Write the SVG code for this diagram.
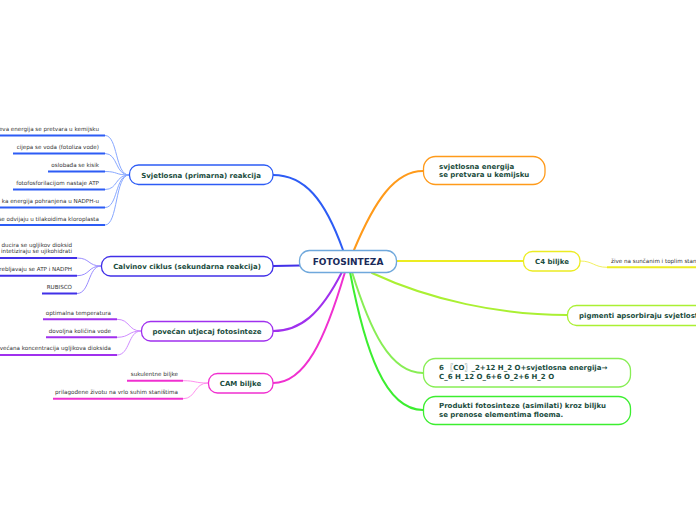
<svg xmlns="http://www.w3.org/2000/svg" width="696" height="520" viewBox="0 0 696 520">
<style>
.node rect{fill:#fff;stroke-width:1.3}
.nt{font-family:"DejaVu Sans",Verdana,sans-serif;font-weight:bold;font-size:7px;fill:#1b4d3e}
.st{font-family:"DejaVu Sans",Verdana,sans-serif;font-size:5.6px;fill:#333}
.main{fill:none;stroke-width:2;stroke-linecap:round}
.sub{fill:none;stroke-width:1}
.ul{fill:none;stroke-width:2}
</style>
<rect width="696" height="520" fill="#fff"/>
<g id="connectors">
<path class="main" stroke="#2d5cf5" d="M343,250 C325,200 305,175 273,175"/>
<path class="main" stroke="#ff9a1a" d="M354,250 C375,200 395,171 423,171"/>
<path class="main" stroke="#4130e8" d="M300,265.5 L273,266"/>
<path class="main" stroke="#a030ee" d="M342,272 C320,315 300,331 273,331"/>
<path class="main" stroke="#f030d0" d="M345,272 C325,340 305,383 273,383"/>
<path class="main" stroke="#ecec22" d="M397,261 L523,261"/>
<path class="main" stroke="#aaf033" d="M372,273 C430,300 500,315 567,315"/>
<path class="main" stroke="#88ee55" d="M352,272 C370,330 390,373 423,373"/>
<path class="main" stroke="#3cee30" d="M350,272 C365,350 385,410 423,410"/>
<g stroke="#88a8ff" class="sub">
<path d="M105,135.5 C118,135.5 115,175 129,175"/>
<path d="M105,153.5 C118,153.5 115,175 129,175"/>
<path d="M105,171.5 C118,171.5 115,175 129,175"/>
<path d="M105,189.5 C118,189.5 115,175 129,175"/>
<path d="M105,207.5 C118,207.5 115,175 129,175"/>
<path d="M105,225 C118,225 115,175 129,175"/>
</g>
<g stroke="#9a8cff" class="sub">
<path d="M77,258 C90,258 88,266 101,266"/>
<path d="M77,275.7 C90,275.7 88,266 101,266"/>
<path d="M77,293.5 C90,293.5 88,266 101,266"/>
</g>
<g stroke="#cf8cff" class="sub">
<path d="M117,319.3 C130,319.3 128,331 141,331"/>
<path d="M117,337.3 C130,337.3 128,331 141,331"/>
<path d="M117,355 C130,355 128,331 141,331"/>
</g>
<g stroke="#ff90ee" class="sub">
<path d="M183,380.7 C196,380.7 194,383 208,383"/>
<path d="M183,398.7 C196,398.7 194,383 208,383"/>
</g>
<path class="sub" stroke="#f2f060" d="M580,261 C593,261 594,267.3 607,267.3"/>
<g class="ul" stroke="#2d5cf5">
<path d="M0,135.5 H105"/><path d="M13,153.5 H105"/><path d="M48,171.5 H105"/>
<path d="M13,189.5 H105"/><path d="M0,207.5 H105"/><path d="M0,225 H105"/>
</g>
<g class="ul" stroke="#4130e8">
<path d="M0,258 H77"/><path d="M0,275.7 H77"/><path d="M42,293.5 H77"/>
</g>
<g class="ul" stroke="#a030ee">
<path d="M43,319.3 H117"/><path d="M46,337.3 H117"/><path d="M0,355 H117"/>
</g>
<g class="ul" stroke="#f030d0">
<path d="M127,380.7 H183"/><path d="M53,398.7 H183"/>
</g>
<path class="ul" stroke="#ecec22" d="M607,267.3 H696"/>
</g>
<g id="center" class="node">
<rect x="299.5" y="250.5" width="97" height="22" rx="10" stroke="#6fa8dc" stroke-width="1.5"/>
<text x="348" y="264.5" text-anchor="middle" style="font-family:'DejaVu Sans',Verdana,sans-serif;font-weight:bold;font-size:9px;fill:#1a2a5a">FOTOSINTEZA</text>
</g>
<g id="svjetlosna-reakcija" class="node">
<rect x="129.5" y="165" width="143.5" height="19.5" rx="9" stroke="#2d5cf5"/>
<text class="nt" x="201" y="177.5" text-anchor="middle">Svjetlosna (primarna) reakcija</text>
</g>
<g id="calvinov" class="node">
<rect x="101.5" y="256.5" width="171.5" height="19.5" rx="9" stroke="#4130e8"/>
<text class="nt" x="187" y="268.8" text-anchor="middle">Calvinov ciklus (sekundarna reakcija)</text>
</g>
<g id="povecan" class="node">
<rect x="141.5" y="321.5" width="131.5" height="19.5" rx="9" stroke="#a030ee"/>
<text class="nt" x="207" y="333.8" text-anchor="middle">povećan utjecaj fotosinteze</text>
</g>
<g id="cam" class="node">
<rect x="208.5" y="373.5" width="64.5" height="19.5" rx="9" stroke="#f030d0"/>
<text class="nt" x="240.5" y="385.8" text-anchor="middle">CAM biljke</text>
</g>
<g id="energija" class="node">
<rect x="423.5" y="156.5" width="121.5" height="28" rx="12" stroke="#ff9a1a"/>
<text class="nt" x="439" y="168.5">svjetlosna energija</text>
<text class="nt" x="439" y="177.3">se pretvara u kemijsku</text>
</g>
<g id="c4" class="node">
<rect x="523.5" y="251.5" width="56.5" height="19.5" rx="9" stroke="#ecec22"/>
<text class="nt" x="552" y="263.8" text-anchor="middle">C4 biljke</text>
</g>
<g id="pigmenti" class="node">
<rect x="567.5" y="305.5" width="150" height="20" rx="9" stroke="#aaf033"/>
<text class="nt" x="579" y="318">pigmenti apsorbiraju svjetlost</text>
</g>
<g id="jednadzba" class="node">
<rect x="423.5" y="358.5" width="207" height="28.5" rx="12" stroke="#88ee55"/>
<text class="nt" x="439" y="370" style="font-family:'DejaVu Sans','Noto Sans CJK SC',sans-serif">6 〖CO〗_2+12 H_2 O+svjetlosna energija→</text>
<text class="nt" x="439" y="379">C_6 H_12 O_6+6 O_2+6 H_2 O</text>
</g>
<g id="produkti" class="node">
<rect x="423.5" y="396.5" width="207" height="28" rx="12" stroke="#3cee30"/>
<text class="nt" x="439" y="407.5">Produkti fotosinteze (asimilati) kroz biljku</text>
<text class="nt" x="439" y="416.5">se prenose elementima floema.</text>
</g>
<g id="sub-svjetlosna">
<text class="st" x="99" y="130.8" text-anchor="end">eva energija se pretvara u kemijsku</text>
<text class="st" x="99" y="148.8" text-anchor="end">cijepa se voda (fotoliza vode)</text>
<text class="st" x="99" y="166.8" text-anchor="end">oslobađa se kisik</text>
<text class="st" x="99" y="184.8" text-anchor="end">fotofosforilacijom nastaje ATP</text>
<text class="st" x="99" y="202.8" text-anchor="end">ka energija pohranjena u NADPH-u</text>
<text class="st" x="99" y="220.6" text-anchor="end">se odvijaju u tilakoidima kloroplasta</text>
</g>
<g id="sub-calvinov">
<text class="st" x="72" y="247" text-anchor="end">ducira se ugljikov dioksid</text>
<text class="st" x="72" y="253.3" text-anchor="end">intetiziraju se ujikohidrati</text>
<text class="st" x="72" y="271" text-anchor="end">rebljavaju se ATP i NADPH</text>
<text class="st" x="72" y="289" text-anchor="end">RUBISCO</text>
</g>
<g id="sub-povecan">
<text class="st" x="111" y="314.6" text-anchor="end">optimalna temperatura</text>
<text class="st" x="111" y="332.6" text-anchor="end">dovoljna količina vode</text>
<text class="st" x="111" y="350.4" text-anchor="end">ovećana koncentracija ugljikova dioksida</text>
</g>
<g id="sub-cam">
<text class="st" x="178" y="376" text-anchor="end">sukulentne biljke</text>
<text class="st" x="178" y="394" text-anchor="end">prilagođene životu na vrlo suhim staništima</text>
</g>
<g id="sub-c4">
<text class="st" x="611" y="262.6">žive na sunčanim i toplim staništima</text>
</g>
</svg>
